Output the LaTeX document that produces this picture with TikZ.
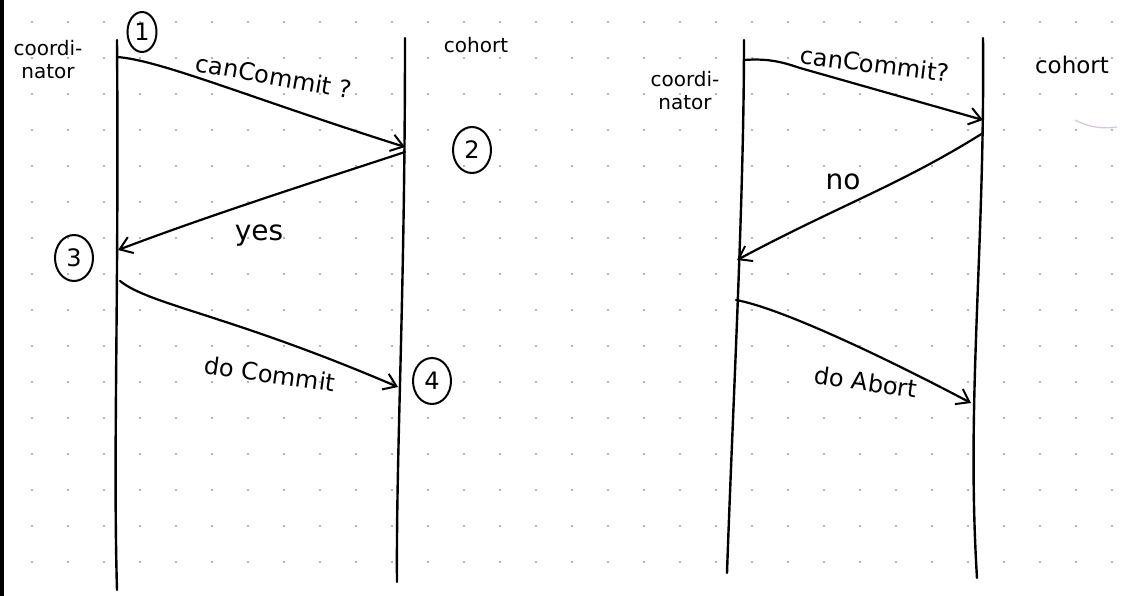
\documentclass[tikz,border=0pt]{standalone}
\usepackage{fontspec}
\setmainfont{DejaVu Sans}
\usetikzlibrary{arrows.meta,shapes.geometric}
\begin{document}
\begin{tikzpicture}[x=1pt,y=-1pt,
  life/.style={line width=2.4pt,line cap=round},
  msg/.style={line width=2.2pt,line cap=round,-{Straight Barb[length=12pt,width=17pt,line width=2pt]}},
  lbl/.style={font=\fontsize{24}{26}\selectfont,inner sep=1pt},
  who/.style={font=\fontsize{20}{23}\selectfont,align=center,inner sep=0pt},
  stepnum/.style={ellipse,draw,line width=2pt,inner sep=0pt,minimum width=38pt,minimum height=46pt,font=\fontsize{24}{26}\selectfont},
  griddot/.style={fill=black!40}]
\useasboundingbox (0,0) rectangle (1128,596);
\fill[white] (0,0) rectangle (1128,596);
% dot grid
\foreach \i in {0,...,30}{\foreach \j in {0,...,15}{
  \fill[griddot] ({32+36*\i},{22+36*\j}) circle (1.1pt);}}
% page edge
\draw[line width=4pt] (2,0) -- (2,596);
% ---------------- left diagram ----------------
\coordinate (LAt) at (117,40);
\coordinate (LAb) at (117,590);
\coordinate (LBt) at (405,38);
\coordinate (LBb) at (397,582);
\draw[life] (LAt) .. controls (119,300) and (113,450) .. (LAb);
\draw[life] (LBt) .. controls (405,300) and (396,450) .. (LBb);
\node[who] (lcoord) at (48,60) {coordi-\\nator};
\node[who] (lcoh) at (476,45) {cohort};
\node[stepnum,minimum width=29pt,minimum height=40pt] (n1) at (142,32) {1};
\node[stepnum] (n2) at (472,150) {2};
\node[stepnum] (n3) at (74,258) {3};
\node[stepnum] (n4) at (432,381) {4};
\coordinate (la1) at (117,57);
\coordinate (lb1) at (405,147);
\coordinate (lb2) at (405,152);
\coordinate (la2) at (118,250);
\coordinate (la3) at (120,281);
\coordinate (lb3) at (398,387);
\draw[msg] (la1) .. controls (160,60) and (250,98) .. (lb1);
\draw[msg] (lb2) .. controls (320,180) and (210,215) .. (la2);
\draw[msg] (la3) .. controls (150,305) and (230,315) .. (lb3);
\node[lbl,rotate=-10] (lt1) at (274,76) {canCommit ?};
\node[lbl,font=\fontsize{28}{30}\selectfont] (lt2) at (259,236) {yes};
\node[lbl,rotate=-8] (lt3) at (270,374) {do Commit};
% ---------------- right diagram ----------------
\coordinate (RAt) at (744,40);
\coordinate (RAb) at (727,573);
\coordinate (RBt) at (983,38);
\coordinate (RBb) at (977,578);
\draw[life] (RAt) .. controls (744,200) and (733,400) .. (RAb);
\draw[life] (RBt) .. controls (985,250) and (966,400) .. (RBb);
\node[who] (rcoord) at (685,91) {coordi-\\nator};
\node[who,font=\fontsize{23}{25}\selectfont] (rcoh) at (1072,65) {cohort};
\coordinate (ra1) at (744,60);
\coordinate (rb1) at (983,120);
\coordinate (rb2) at (983,133);
\coordinate (ra2) at (737,260);
\coordinate (ra3) at (736,300);
\coordinate (rb3) at (971,403);
\draw[msg] (ra1) .. controls (770,58) and (785,63) .. (800,68) -- (rb1);
\draw[msg] (rb2) .. controls (900,185) and (840,205) .. (ra2);
\draw[msg] (ra3) .. controls (780,308) and (880,355) .. (rb3);
\node[lbl,rotate=-7] (rt1) at (875,64) {canCommit?};
\node[lbl,font=\fontsize{28}{30}\selectfont] (rt2) at (843,182) {no};
\node[lbl,rotate=-8] (rt3) at (866,382) {do Abort};
% stray faint mark
\draw[line width=1.2pt,color=violet!25] (1075,120) .. controls (1090,128) and (1105,129) .. (1117,127);
\end{tikzpicture}
\end{document}
